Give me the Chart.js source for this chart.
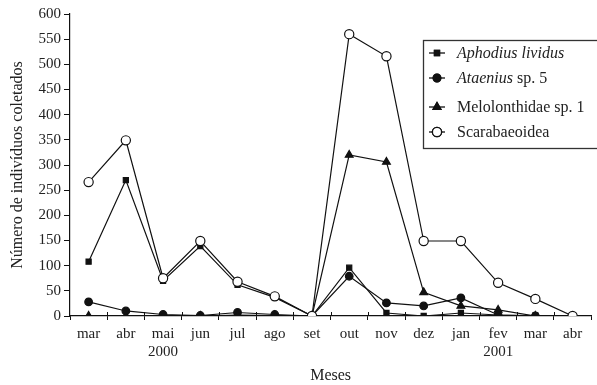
<!DOCTYPE html>
<html>
<head>
<meta charset="utf-8">
<script src="https://cdn.jsdelivr.net/npm/chart.js@4.4.0/dist/chart.umd.min.js"></script>
<style>
    body { margin: 0; background: #fff; }
</style>
</head>
<body>
<canvas id="chart" width="597" height="385"></canvas>
<script>
// Month labels (mar 2000 .. abr 2001), year written under mai and fev
const months = ['mar', 'abr', ['mai', '2000'], 'jun', 'jul', 'ago', 'set', 'out', 'nov', 'dez', 'jan', ['fev', '2001'], 'mar', 'abr'];

// Number of individuals collected per month
const aphodius = [108, 270, 70, 139, 62, 37, 0, 96, 6, 0, 6, 2, 1];
const ataenius = [28, 10, 3, 1, 7, 3, 0, 79, 26, 20, 36, 2, 0];
const melolonthidae = [0, 0, 0, 0, 2, 1, 0, 320, 306, 47, 20, 12, 0];
const scarabaeoidea = [266, 349, 75, 149, 68, 39, 0, 560, 516, 149, 149, 66, 34, 0];

const yTicks = { min: 0, max: 600, step: 50 };

// Legend text, split into [text, italic] pieces
const legendLabels = [
    [['Aphodius lividus', true]],
    [['Ataenius', true], [' sp. 5', false]],
    [['Melolonthidae sp. 1', false]],
    [['Scarabaeoidea', false]]
];

const serif = '"Liberation Serif", "Times New Roman", serif';
const ink = '#111';

// Build a dataset with black line and the given marker
function makeSeries(label, data, style, radius, fill, order) {
    return {
        label: label,
        data: data,
        borderColor: ink,
        borderWidth: 1.2,
        pointStyle: style,
        pointRadius: radius,
        pointBackgroundColor: fill,
        pointBorderColor: ink,
        pointBorderWidth: 1.2,
        tension: 0,
        order: order
    };
}

// Small tick marks poking up into the plot, between the months
const innerTicks = {
    id: 'innerTicks',
    afterDraw(chart) {
        const x = chart.scales.x;
        const c = chart.ctx;
        const y0 = chart.chartArea.bottom;
        c.save();
        c.strokeStyle = ink;
        c.lineWidth = 1;
        for (let i = 0; i < months.length - 1; i++) {
            const px = Math.round((x.getPixelForValue(i) + x.getPixelForValue(i + 1)) / 2) + 0.5;
            c.beginPath();
            c.moveTo(px, y0);
            c.lineTo(px, y0 - 4);
            c.stroke();
        }
        c.restore();
    }
};

// Boxed legend in the upper right, with italic species names
const boxLegend = {
    id: 'boxLegend',
    afterDraw(chart) {
        const c = chart.ctx;
        const rowsY = [53, 78, 107, 132];
        c.save();
        c.fillStyle = '#fff';
        c.fillRect(423, 40, 180, 109);
        c.strokeStyle = '#333';
        c.lineWidth = 1.3;
        c.strokeRect(423.5, 40.5, 180, 108);

        chart.data.datasets.forEach((ds, i) => {
            const y = rowsY[i];
            // short line with marker
            c.strokeStyle = ink;
            c.lineWidth = 1.3;
            c.beginPath();
            c.moveTo(429, y);
            c.lineTo(445, y);
            c.stroke();
            Chart.helpers.drawPoint(c, {
                pointStyle: ds.pointStyle,
                radius: ds.pointRadius,
                borderWidth: 1.2
            }, 437, y);
            c.fillStyle = ds.pointBackgroundColor;
            c.fill();
            c.stroke();

            // text pieces
            let tx = 457;
            c.fillStyle = '#222';
            c.textBaseline = 'middle';
            legendLabels[i].forEach(piece => {
                c.font = (piece[1] ? 'italic ' : '') + '16px ' + serif;
                c.fillText(piece[0], tx, y + 1);
                tx += c.measureText(piece[0]).width;
            });
        });
        c.restore();
    }
};

const ctx = document.getElementById('chart').getContext('2d');
new Chart(ctx, {
    type: 'line',
    data: {
        labels: months,
        datasets: [
            makeSeries('Aphodius lividus', aphodius, 'rect', 3.6, ink, 3),
            makeSeries('Ataenius sp. 5', ataenius, 'circle', 3.8, ink, 2),
            makeSeries('Melolonthidae sp. 1', melolonthidae, 'triangle', 4.5, ink, 1),
            makeSeries('Scarabaeoidea', scarabaeoidea, 'circle', 4.6, '#fff', 0)
        ]
    },
    plugins: [innerTicks, boxLegend],
    options: {
        responsive: false,
        animation: false,
        layout: { padding: { top: 14, right: 0, left: 0, bottom: 0 } },
        plugins: {
            legend: { display: false },
            tooltip: { enabled: false }
        },
        scales: {
            x: {
                offset: true,
                afterFit: function(scale) { scale.height = 69; },
                grid: { offset: true, drawOnChartArea: false, tickLength: 4, color: ink },
                border: { color: ink, width: 1.2 },
                ticks: {
                    color: '#222', font: { family: serif, size: 15 }, padding: 5,
                    maxRotation: 0, autoSkip: false
                },
                title: {
                    display: true, text: 'Meses', color: '#222',
                    font: { family: serif, size: 16 }, padding: { top: 3, bottom: 0 }
                }
            },
            y: {
                min: yTicks.min,
                max: yTicks.max,
                afterFit: function(scale) { scale.width = 70; },
                grid: { drawOnChartArea: false, tickLength: 6, color: ink },
                border: { color: ink, width: 1.2 },
                ticks: {
                    stepSize: yTicks.step, color: '#222',
                    font: { family: serif, size: 15 }, padding: 3
                },
                title: {
                    display: true, text: 'Número de indivíduos coletados', color: '#222',
                    font: { family: serif, size: 16 }, padding: { top: 8, bottom: 0 }
                }
            }
        }
    }
});
</script>
</body>
</html>
